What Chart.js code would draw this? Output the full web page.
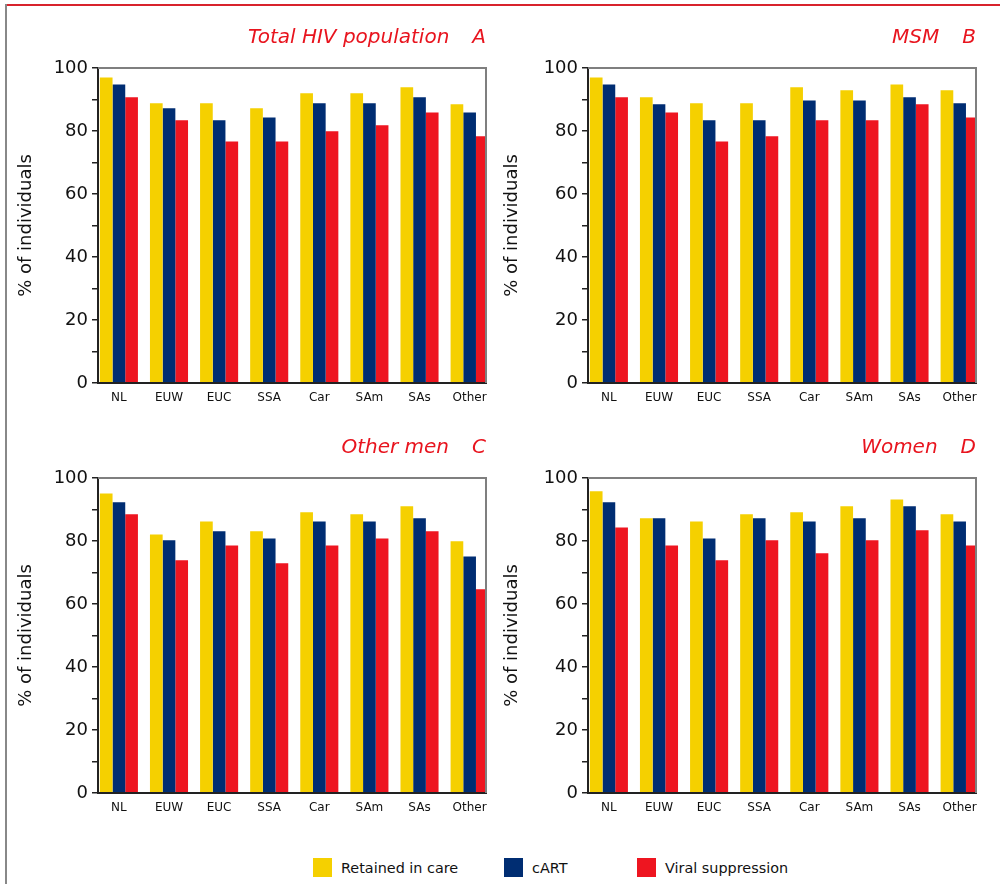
<!DOCTYPE html>
<html>
<head>
<meta charset="utf-8">
<script src="https://cdn.jsdelivr.net/npm/chart.js@4/dist/chart.umd.min.js"></script>
<style>
  body { margin: 0; background: #fff; font-family: "DejaVu Sans", sans-serif; }
  #page { position: relative; width: 1000px; height: 884px; overflow: hidden; background: #fff; }
  .frameTop { position: absolute; left: 5px; top: 4px; width: 995px; height: 2px; background: #d8232c; }
  .frameLeft { position: absolute; left: 5px; top: 4px; width: 2px; height: 880px; background: #888; }
  canvas { position: absolute; }
  .legend { position: absolute; top: 858px; height: 19px; display: flex; align-items: center; font-size: 14.4px; color: #111; white-space: nowrap; }
  .swatch { width: 19px; height: 19px; margin-right: 9px; }
</style>
</head>
<body>
<div id="page">
  <div class="frameTop"></div>
  <div class="frameLeft"></div>
  <canvas id="chartA" width="500" height="420" style="left:0px;top:0px"></canvas>
  <canvas id="chartB" width="500" height="420" style="left:490px;top:0px"></canvas>
  <canvas id="chartC" width="500" height="420" style="left:0px;top:410px"></canvas>
  <canvas id="chartD" width="500" height="420" style="left:490px;top:410px"></canvas>
  <div class="legend" style="left:313px"><div class="swatch" style="background:#f5d000"></div>Retained in care</div>
  <div class="legend" style="left:504px"><div class="swatch" style="background:#002d72"></div>cART</div>
  <div class="legend" style="left:637px"><div class="swatch" style="background:#ee1520"></div>Viral suppression</div>
</div>
<script>
const categories = ['NL', 'EUW', 'EUC', 'SSA', 'Car', 'SAm', 'SAs', 'Other'];
const seriesNames = ['Retained in care', 'cART', 'Viral suppression'];
const seriesColors = ['#f5d000', '#002d72', '#ee1520'];
const yTickLabels = [0, 20, 40, 60, 80, 100];

// A: total HIV population
const retainedTotal = [97.0, 88.8, 88.8, 87.2, 92.0, 92.0, 93.9, 88.5];
const cartTotal = [94.8, 87.2, 83.4, 84.3, 88.8, 88.8, 90.7, 85.9];
const suppressedTotal = [90.7, 83.4, 76.7, 76.7, 79.9, 81.8, 85.9, 78.3];

// B: MSM
const retainedMsm = [97.0, 90.7, 88.8, 88.8, 93.9, 92.9, 94.8, 92.9];
const cartMsm = [94.8, 88.5, 83.4, 83.4, 89.7, 89.7, 90.7, 88.8];
const suppressedMsm = [90.7, 85.9, 76.7, 78.3, 83.4, 83.4, 88.5, 84.3];

// C: other men
const retainedOtherMen = [95.1, 82.1, 86.2, 83.1, 89.1, 88.5, 91.0, 79.9];
const cartOtherMen = [92.3, 80.2, 83.1, 80.8, 86.2, 86.2, 87.2, 75.1];
const suppressedOtherMen = [88.5, 73.9, 78.6, 72.9, 78.6, 80.8, 83.1, 64.7];

// D: women
const retainedWomen = [95.8, 87.2, 86.2, 88.5, 89.1, 91.0, 93.2, 88.5];
const cartWomen = [92.3, 87.2, 80.8, 87.2, 86.2, 87.2, 91.0, 86.2];
const suppressedWomen = [84.3, 78.6, 73.9, 80.2, 76.1, 80.2, 83.4, 78.6];

const font = '"DejaVu Sans", sans-serif';

// panel title + grey top/right frame of the plot box
const panelTitle = {
  id: 'panelTitle',
  afterDraw(chart, args, opts) {
    const { ctx, chartArea } = chart;
    ctx.save();
    ctx.strokeStyle = '#7f7f7f';
    ctx.lineWidth = 2;
    ctx.beginPath();
    ctx.moveTo(chartArea.left, chartArea.top);
    ctx.lineTo(chartArea.right, chartArea.top);
    ctx.lineTo(chartArea.right, chartArea.bottom);
    ctx.stroke();
    ctx.font = 'italic 20px ' + font;
    ctx.fillStyle = '#e8141e';
    ctx.textAlign = 'right';
    ctx.textBaseline = 'middle';
    const y = chartArea.top - 30;
    ctx.fillText(opts.letter, chartArea.right, y);
    const w = ctx.measureText(opts.letter).width;
    ctx.fillText(opts.text, chartArea.right - w - 23, y);
    ctx.restore();
  }
};

const makePanel = (id, title, letter, retained, cart, suppressed, titlePad) => {
  const series = [retained, cart, suppressed];
  new Chart(document.getElementById(id), {
    type: 'bar',
    data: {
      datasets: series.map((values, s) => ({
        label: seriesNames[s],
        data: values.map((v, i) => ({ x: i, y: v })),
        backgroundColor: seriesColors[s],
        borderWidth: 0,
        barPercentage: 1,
        categoryPercentage: 0.76
      }))
    },
    options: {
      responsive: false,
      animation: false,
      layout: { padding: { top: 68, right: 14, left: 0, bottom: 0 } },
      plugins: {
        legend: { display: false },
        tooltip: { enabled: false },
        panelTitle: { text: title, letter: letter }
      },
      scales: {
        x: {
          type: 'linear',
          offset: false,
          min: -0.417,
          max: 7.327,
          afterBuildTicks: s => { s.ticks = categories.map((c, i) => ({ value: i })); },
          grid: { display: false, drawTicks: false, offset: false },
          border: { display: true, color: '#222', width: 2, z: 1 },
          ticks: {
            callback: v => categories[v],
            font: { size: 12, family: font },
            color: '#111',
            padding: 8,
            maxRotation: 0,
            autoSkip: false
          },
          afterFit: s => { s.height = 37; }
        },
        y: {
          min: 0,
          max: 100,
          ticks: {
            stepSize: 10,
            callback: v => yTickLabels.includes(v) ? String(v) : '',
            font: { size: 18, family: font },
            color: '#111',
            padding: 4
          },
          grid: { drawOnChartArea: false, drawTicks: true, tickLength: 6, color: '#222', lineWidth: 1.5 },
          border: { color: '#222', width: 2, z: 1 },
          title: {
            display: true,
            text: '% of individuals',
            font: { size: 18, family: font },
            color: '#111',
            padding: { top: titlePad, bottom: 0 }
          },
          afterFit: s => { s.width = 98; }
        }
      }
    },
    plugins: [panelTitle]
  });
};

makePanel('chartA', 'Total HIV population', 'A', retainedTotal, cartTotal, suppressedTotal, 16);
makePanel('chartB', 'MSM', 'B', retainedMsm, cartMsm, suppressedMsm, 12);
makePanel('chartC', 'Other men', 'C', retainedOtherMen, cartOtherMen, suppressedOtherMen, 16);
makePanel('chartD', 'Women', 'D', retainedWomen, cartWomen, suppressedWomen, 12);
</script>
</body>
</html>
